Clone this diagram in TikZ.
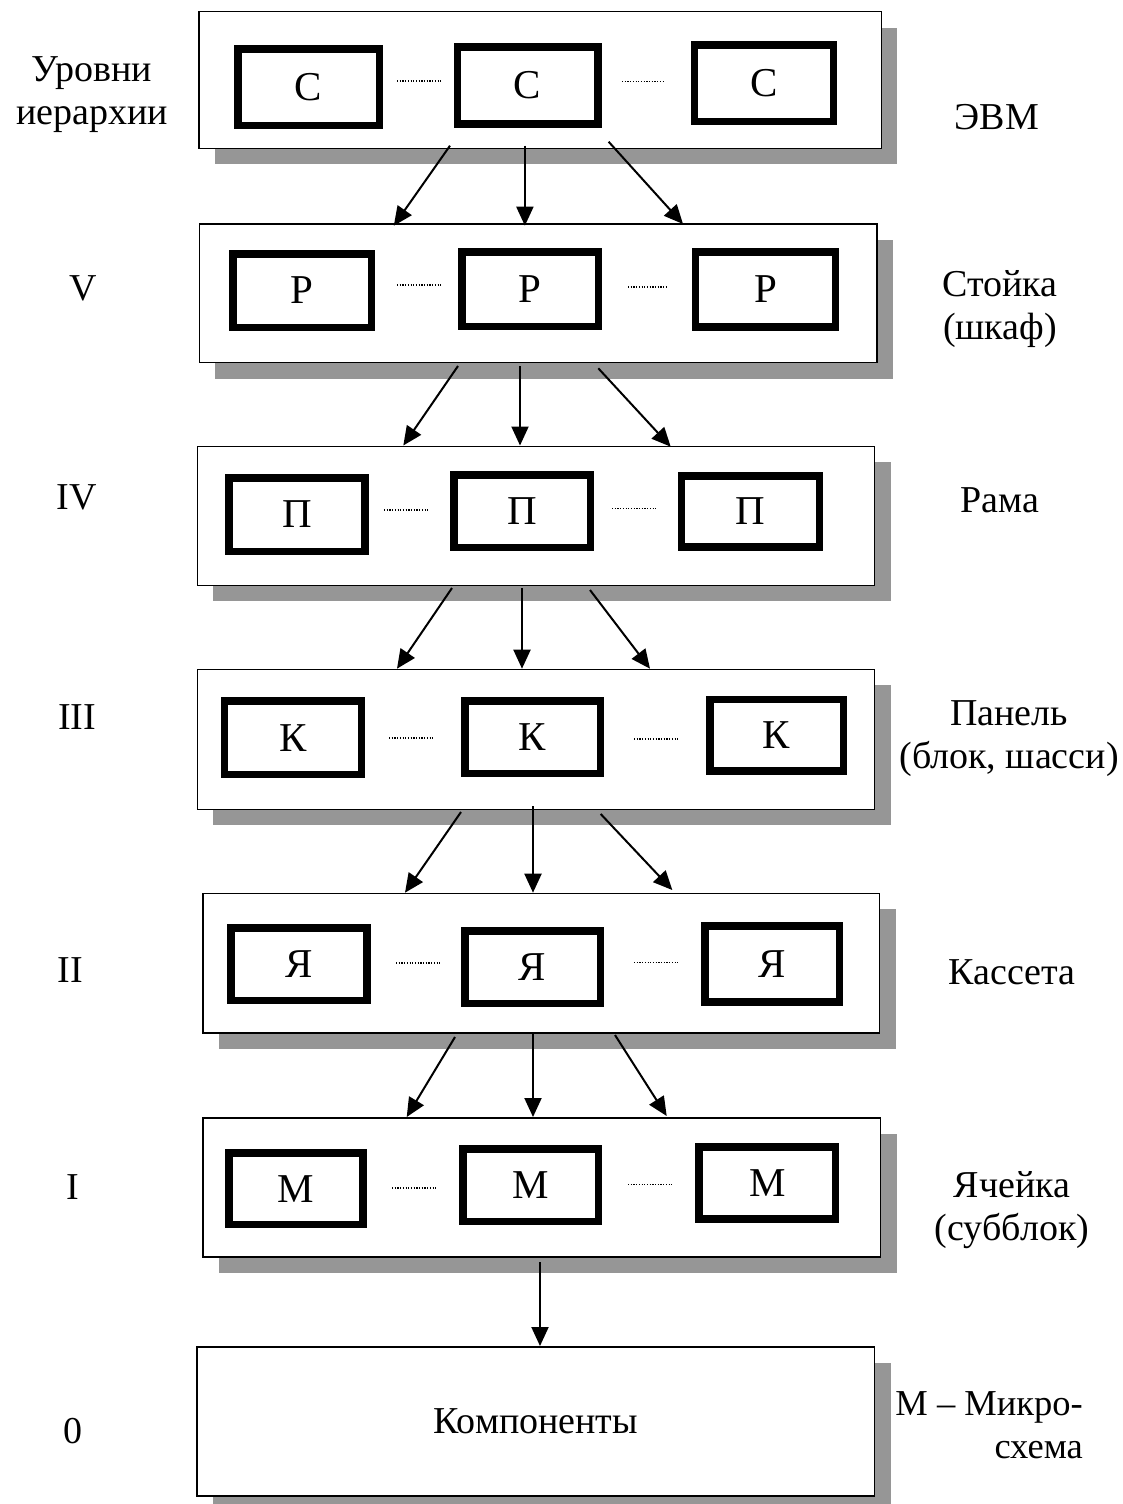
\documentclass[tikz,border=0pt]{standalone}
\usepackage{fontspec}
\setmainfont{Liberation Serif}
\usetikzlibrary{arrows.meta,shadows}
\definecolor{shadowgray}{RGB}{150,150,150}
\tikzset{
  outerbox/.style={draw=black, line width=1.5pt, fill=white, inner sep=0pt,
    drop shadow={shadow xshift=16pt, shadow yshift=-16pt, fill=shadowgray, opacity=1}},
  innerbox/.style={draw=black, line width=7.5pt, fill=white, inner sep=0pt,
    font=\fontsize{41}{44}\selectfont},
  dots/.style={line width=1.3pt, dash pattern=on 1.2pt off 1.5pt},
  arr/.style={line width=2pt, -{Triangle[length=19pt,width=17pt]}},
  lab/.style={font=\fontsize{38}{43}\selectfont, align=center, inner sep=0pt},
}
\newcommand\obox[6]{\node[outerbox, minimum width={#4-#2-1.5}, minimum height={#5-#3-1.5}] (#1) at ({(#2+#4)/2},{(#3+#5)/2}) {#6};}
\newcommand\ibox[6]{\node[innerbox, minimum width={#4-#2-7.5}, minimum height={#5-#3-7.5}] (#1) at ({(#2+#4)/2},{(#3+#5)/2}) {#6};}
\newcommand\dotline[4]{\coordinate (#1a) at (#2,#4); \coordinate (#1b) at (#3,#4); \draw[dots] (#1a) -- (#1b);}
\newcommand\arrow[5]{\coordinate (#1t) at (#2,#3); \coordinate (#1h) at (#4,#5); \draw[arr] (#1t) -- (#1h);}
\begin{document}
\begin{tikzpicture}[x=1pt,y=-1pt]
\useasboundingbox (0,0) rectangle (1122,1504);
% outer level boxes
\obox{L1}{198}{11}{882}{149}{}
\obox{L2}{198.7}{223.3}{877.7}{363.3}{}
\obox{L3}{196.7}{445.7}{875.3}{586}{}
\obox{L4}{196.7}{668.7}{875.3}{810}{}
\obox{L5}{202}{892.7}{880.3}{1033.7}{}
\obox{L6}{202.3}{1117.3}{881.3}{1257.5}{}
\node[outerbox, minimum width={875.3-196-1.5}, minimum height={1496.7-1346-1.5},
  font=\fontsize{38}{43}\selectfont] (L7) at ({(196+875.3)/2},{(1346+1496.7)/2}) {Компоненты};
% inner boxes
\ibox{C1}{234.3}{45.3}{383}{129.3}{С}
\ibox{C2}{453.6}{43.3}{601.7}{127.7}{С}
\ibox{C3}{690.5}{41.3}{837}{125}{С}
\ibox{P1}{229.3}{250}{375}{331}{Р}
\ibox{P2}{458}{248}{602}{330}{Р}
\ibox{P3}{691.7}{248.3}{839.3}{330.7}{Р}
\ibox{Q1}{225.3}{474}{368.7}{555}{П}
\ibox{Q2}{450}{471}{594}{551}{П}
\ibox{Q3}{677.7}{472.3}{823.3}{550.7}{П}
\ibox{K1}{220.7}{697.3}{365}{778.3}{К}
\ibox{K2}{461}{697}{604}{777}{К}
\ibox{K3}{706}{695.7}{847.3}{774.7}{К}
\ibox{Y1}{227.3}{924}{370.7}{1004.3}{Я}
\ibox{Y2}{461}{927}{604}{1007}{Я}
\ibox{Y3}{701}{922.3}{843.3}{1005.7}{Я}
\ibox{M1}{225.3}{1149.3}{366.7}{1228.3}{М}
\ibox{M2}{459}{1145}{602}{1225}{М}
\ibox{M3}{695.3}{1143.3}{839.3}{1222.7}{М}
% dotted separators
\dotline{d1}{397}{441}{81}
\dotline{d2}{622}{664}{81.5}
\dotline{d3}{397}{442}{285}
\dotline{d4}{628}{668}{287}
\dotline{d5}{384}{428}{510}
\dotline{d6}{612}{656}{508.3}
\dotline{d7}{389}{434}{738}
\dotline{d8}{634}{678}{739}
\dotline{d9}{396}{440}{963}
\dotline{d10}{634}{678}{962.7}
\dotline{d11}{392}{437}{1188}
\dotline{d12}{628}{672}{1184.3}
% arrows
\arrow{a1}{450}{145.7}{393.8}{225.7}
\arrow{a2}{524.9}{145.7}{524.9}{225.7}
\arrow{a3}{608.6}{141.7}{683}{224}
\arrow{a4}{458}{366}{403.3}{445.5}
\arrow{a5}{520}{366}{520}{445.5}
\arrow{a6}{598.3}{368.3}{670.7}{446.7}
\arrow{a7}{452}{588}{397}{668.7}
\arrow{a8}{522}{588}{522}{668.7}
\arrow{a9}{590}{590}{650}{668.7}
\arrow{a10}{461}{812}{405}{892.7}
\arrow{a11}{533}{806}{533}{892.7}
\arrow{a12}{600.7}{814}{672.3}{890}
\arrow{a13}{455}{1037}{406.7}{1117}
\arrow{a14}{533}{1033}{533}{1117}
\arrow{a15}{615}{1035}{666.7}{1116}
\arrow{a16}{540}{1262}{540}{1346}
% left labels
\node[lab] (t0) at (92,95) {Уровни\\иерархии};
\node[lab] (t5) at (83,288) {V};
\node[lab] (t4) at (77,497) {IV};
\node[lab] (t3) at (77,717) {III};
\node[lab] (t2) at (70,970) {II};
\node[lab] (t1) at (73,1187) {I};
\node[lab] (tz) at (73,1431) {0};
% right labels
\node[lab] (r1) at (997,117) {ЭВМ};
\node[lab] (r2) at (1000,309) {Стойка\\(шкаф)};
\node[lab] (r3) at (1000,500) {Рама};
\node[lab] (r4) at (1009,739) {Панель\\(блок, шасси)};
\node[lab] (r5) at (1012,972) {Кассета};
\node[lab] (r6) at (1012,1210) {Ячейка\\(субблок)};
\node[lab, align=right, anchor=east, font=\fontsize{36.5}{43}\selectfont] (r7) at (1083,1425) {М -- Микро-\\схема};
\end{tikzpicture}
\end{document}
